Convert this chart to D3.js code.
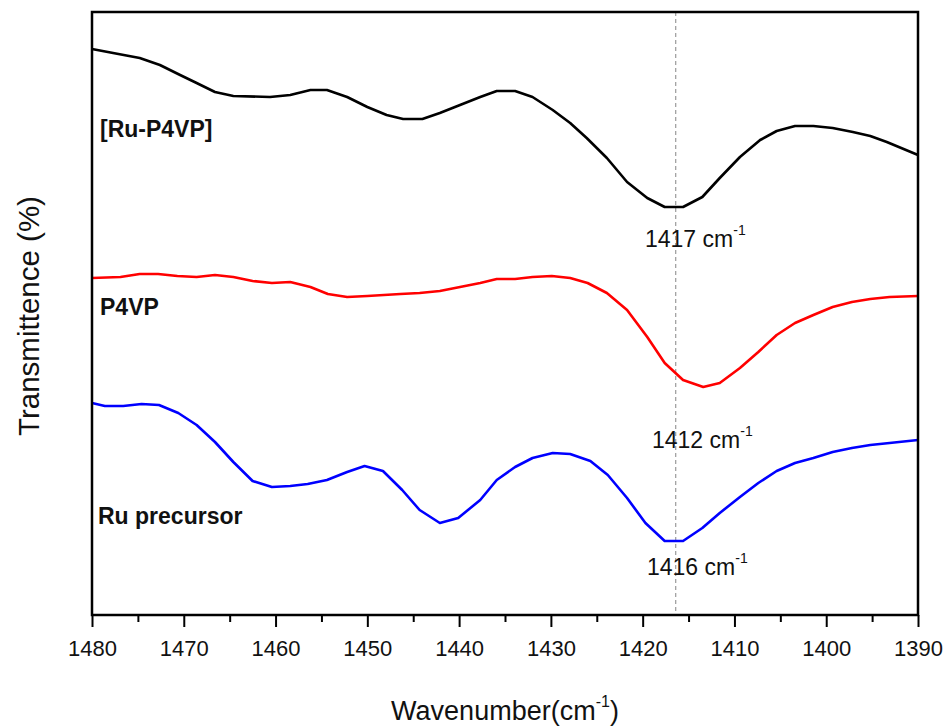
<!DOCTYPE html>
<html>
<head>
<meta charset="utf-8">
<script src="https://cdn.jsdelivr.net/npm/d3@7"></script>
<style>
  html, body { margin: 0; padding: 0; background: #fff; }
  svg { display: block; font-family: "Liberation Sans", Arial, Helvetica, sans-serif; }
</style>
</head>
<body>
<svg id="chart" width="947" height="727"></svg>
<script>
// ---- Data ----
const xTicks = [1480, 1470, 1460, 1450, 1440, 1430, 1420, 1410, 1400, 1390];
const xMinorTicks = [1475, 1465, 1455, 1445, 1435, 1425, 1415, 1405, 1395];
const markerWavenumber = 1416.4;

const ruP4vpWn = [1480, 1477.7, 1474.8, 1472.6, 1470.4, 1468.6, 1466.6, 1464.6, 1460.6, 1458.4,
  1456.2, 1454.4, 1452.2, 1450.0, 1447.9, 1446.1, 1444.0, 1442.1, 1439.9, 1437.7,
  1435.9, 1433.9, 1432.0, 1429.8, 1427.9, 1426.1, 1423.9, 1421.7, 1419.5, 1417.6,
  1415.6, 1413.5, 1411.6, 1409.4, 1407.2, 1405.4, 1403.4, 1401.4, 1399.3, 1397.1,
  1395.2, 1393.4, 1390.0];
const ruP4vpT = [56.6, 56.2, 55.7, 55.0, 54.0, 53.2, 52.3, 51.9, 51.8, 52.0,
  52.5, 52.5, 51.8, 50.8, 50.0, 49.6, 49.6, 50.2, 51.0, 51.8,
  52.4, 52.4, 51.8, 50.5, 49.2, 47.7, 45.7, 43.3, 41.7, 40.8,
  40.8, 41.8, 43.7, 45.8, 47.5, 48.4, 48.9, 48.9, 48.7, 48.3,
  47.9, 47.3, 46.0];

const p4vpWn = [1480, 1476.9, 1474.8, 1472.8, 1470.7, 1468.6, 1466.6, 1464.6, 1462.5, 1460.4,
  1458.4, 1456.2, 1454.3, 1452.2, 1450.0, 1446.4, 1444.3, 1442.1, 1439.9, 1437.7,
  1435.9, 1433.9, 1432.0, 1429.9, 1427.9, 1426.0, 1423.9, 1421.7, 1419.5, 1417.6,
  1415.6, 1413.4, 1411.6, 1409.4, 1407.4, 1405.4, 1403.4, 1401.4, 1399.3, 1397.2,
  1395.2, 1393.1, 1390.0];
const p4vpT = [33.7, 33.8, 34.1, 34.1, 33.9, 33.8, 34.0, 33.8, 33.4, 33.2,
  33.3, 32.8, 32.1, 31.8, 31.9, 32.1, 32.2, 32.4, 32.8, 33.2,
  33.6, 33.6, 33.8, 33.9, 33.7, 33.2, 32.2, 30.5, 27.8, 25.2,
  23.5, 22.8, 23.2, 24.7, 26.3, 28.0, 29.2, 30.0, 30.8, 31.3,
  31.6, 31.8, 31.9];

const ruPrecWn = [1480, 1478.6, 1476.6, 1474.6, 1472.7, 1470.6, 1468.6, 1466.6, 1464.6, 1462.5,
  1460.4, 1458.4, 1456.5, 1454.4, 1452.2, 1450.3, 1448.3, 1446.2, 1444.3, 1442.1,
  1440.1, 1437.7, 1435.9, 1433.9, 1432.0, 1429.8, 1427.9, 1425.7, 1423.8, 1421.7,
  1419.7, 1417.6, 1415.6, 1413.5, 1411.6, 1409.4, 1407.4, 1405.4, 1403.4, 1401.4,
  1399.3, 1397.2, 1395.2, 1393.1, 1390.0];
const ruPrecT = [21.2, 20.9, 20.9, 21.1, 21.0, 20.2, 19.0, 17.3, 15.3, 13.4,
  12.8, 12.9, 13.1, 13.5, 14.3, 14.9, 14.4, 12.5, 10.5, 9.2,
  9.7, 11.5, 13.5, 14.8, 15.7, 16.2, 16.1, 15.4, 14.0, 11.7,
  9.2, 7.4, 7.4, 8.7, 10.2, 11.8, 13.2, 14.4, 15.2, 15.7,
  16.3, 16.7, 17.0, 17.2, 17.5];

const seriesNames = ["[Ru-P4VP]", "P4VP", "Ru precursor"];
const peakLabels = ["1417", "1412", "1416"];

// ---- Layout ----
const svg = d3.select("#chart");
const mLeft = 92, mTop = 12, mRight = 918, mBottom = 615;

const x = d3.scaleLinear().domain([1480, 1390]).range([mLeft, mRight]);
const y = d3.scaleLinear().domain([0, 60.3]).range([mBottom, mTop]);

// Dashed marker line
svg.append("line")
  .attr("x1", x(markerWavenumber)).attr("x2", x(markerWavenumber))
  .attr("y1", mTop).attr("y2", mBottom)
  .attr("stroke", "#9a9a9a").attr("stroke-width", 1.2)
  .attr("stroke-dasharray", "4,3");

// Curves
const series = [
  { wn: ruP4vpWn, t: ruP4vpT, color: "#000000" },
  { wn: p4vpWn, t: p4vpT, color: "#ff0000" },
  { wn: ruPrecWn, t: ruPrecT, color: "#0000ff" }
];
const line = d3.line().x(d => x(d[0])).y(d => y(d[1]));
series.forEach(s => {
  svg.append("path")
    .datum(s.wn.map((w, i) => [w, s.t[i]]))
    .attr("fill", "none")
    .attr("stroke", s.color)
    .attr("stroke-width", 2.6)
    .attr("stroke-linejoin", "round")
    .attr("d", line);
});

// Frame
svg.append("rect")
  .attr("x", mLeft).attr("y", mTop)
  .attr("width", mRight - mLeft).attr("height", mBottom - mTop)
  .attr("fill", "none").attr("stroke", "#000").attr("stroke-width", 2.5);

// X axis (major)
const xAxis = svg.append("g")
  .attr("transform", `translate(0,${mBottom})`)
  .call(d3.axisBottom(x).tickValues(xTicks).tickSize(12).tickPadding(13).tickFormat(d3.format("d")));
xAxis.select(".domain").remove();
xAxis.selectAll(".tick line").attr("stroke", "#000").attr("stroke-width", 2);
xAxis.selectAll(".tick text")
  .attr("font-size", 22).attr("fill", "#111")
  .attr("font-family", "'Liberation Sans', Arial, sans-serif");

// X axis (minor)
const xMinor = svg.append("g")
  .attr("transform", `translate(0,${mBottom})`)
  .call(d3.axisBottom(x).tickValues(xMinorTicks).tickSize(7).tickFormat(""));
xMinor.select(".domain").remove();
xMinor.selectAll(".tick line").attr("stroke", "#000").attr("stroke-width", 2);

// Series labels
const labelPos = [[100, 137], [100, 315], [98, 524]];
seriesNames.forEach((n, i) => {
  svg.append("text")
    .attr("x", labelPos[i][0]).attr("y", labelPos[i][1])
    .attr("font-size", 23).attr("font-weight", "bold").attr("fill", "#111")
    .text(n);
});

// Peak annotations
const peakPos = [[645, 247], [652, 448], [647, 575]];
peakLabels.forEach((p, i) => {
  const t = svg.append("text")
    .attr("x", peakPos[i][0]).attr("y", peakPos[i][1])
    .attr("font-size", 23).attr("fill", "#111");
  t.append("tspan").text(p + " cm");
  t.append("tspan").attr("font-size", 14).attr("dy", -12).text("-1");
});

// Axis titles
const xt = svg.append("text")
  .attr("x", 505).attr("y", 720)
  .attr("text-anchor", "middle")
  .attr("font-size", 27).attr("fill", "#111");
xt.append("tspan").text("Wavenumber(cm");
xt.append("tspan").attr("font-size", 16).attr("dy", -13).text("-1");
xt.append("tspan").attr("dy", 13).text(")");

svg.append("text")
  .attr("transform", "translate(39,316) rotate(-90)")
  .attr("text-anchor", "middle")
  .attr("font-size", 29.5).attr("fill", "#111")
  .text("Transmittence (%)");
</script>
</body>
</html>
